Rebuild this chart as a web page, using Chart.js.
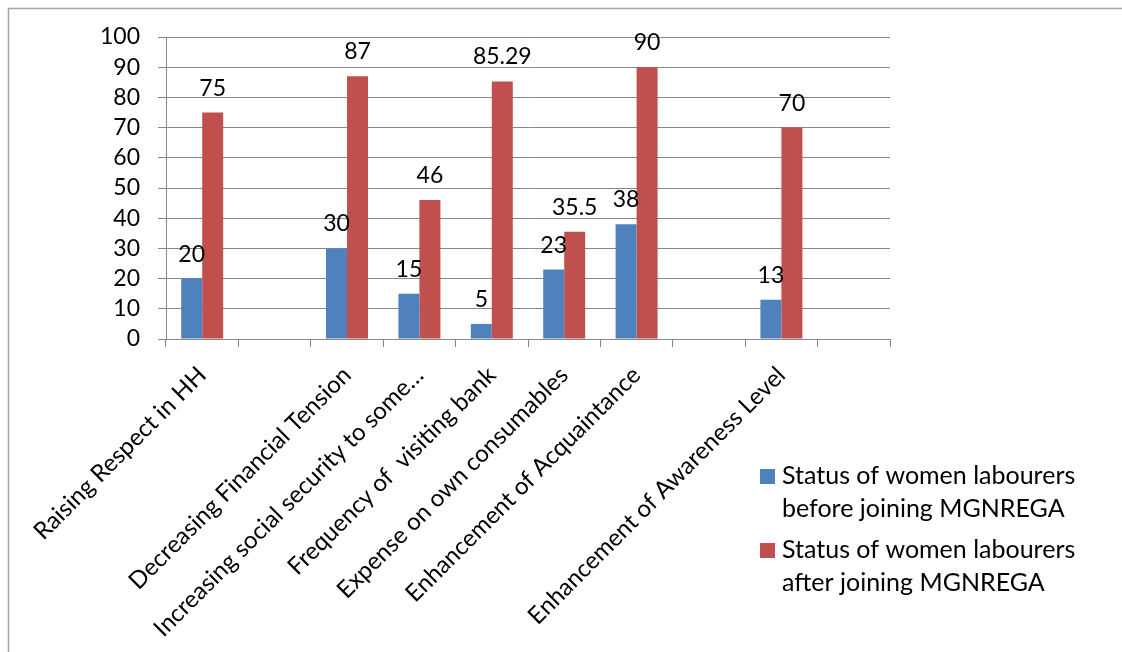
<!DOCTYPE html>
<html><head><meta charset="utf-8">
<script src="https://cdn.jsdelivr.net/npm/chart.js@4.4.0/dist/chart.umd.min.js"></script>
<style>html,body{margin:0;padding:0;background:#fff;} #wrap{position:relative;width:1122px;height:652px;}</style>
</head><body><div id="wrap"><canvas id="c" width="1122" height="652"></canvas></div>
<script>
const categories = [
  "Raising Respect in HH", "", "Decreasing Financial Tension",
  "Increasing social security to some\u2026", "Frequency of  visiting bank",
  "Expense on own consumables", "Enhancement of Acquaintance", "",
  "Enhancement of Awareness Level", ""
];
const seriesNames = [
  "Status of women labourers before joining MGNREGA",
  "Status of women labourers after joining MGNREGA"
];
const beforeValues = [20, null, 30, 15, 5, 23, 38, null, 13, null];
const afterValues  = [75, null, 87, 46, 85.29, 35.5, 90, null, 70, null];
const yMin = 0, yMax = 100, yStep = 10;

const FONT = 'Lato, "Liberation Sans", sans-serif';

const framePlugin = {
  id: 'frame',
  beforeDraw(chart) {
    const ctx = chart.ctx;
    ctx.save();
    ctx.fillStyle = '#fff';
    ctx.fillRect(0, 0, chart.width, chart.height);
    ctx.strokeStyle = '#a6a6a6';
    ctx.lineWidth = 1.5;
    ctx.beginPath();
    ctx.moveTo(8.5, chart.height);
    ctx.lineTo(8.5, 8.5);
    ctx.lineTo(chart.width, 8.5);
    ctx.stroke();
    ctx.restore();
  }
};

const valueLabelPlugin = {
  id: 'valueLabels',
  afterDatasetsDraw(chart) {
    const ctx = chart.ctx;
    ctx.save();
    ctx.font = '23px ' + FONT;
    ctx.fillStyle = '#000';
    ctx.textAlign = 'center';
    ctx.textBaseline = 'alphabetic';
    chart.data.datasets.forEach((ds, di) => {
      const meta = chart.getDatasetMeta(di);
      meta.data.forEach((el, i) => {
        const v = ds.data[i];
        if (v === null || v === undefined) return;
        ctx.fillText(String(v), el.x, el.y - 17);
      });
    });
    ctx.restore();
  }
};

const sideLegendPlugin = {
  id: 'sideLegend',
  afterDraw(chart) {
    const ctx = chart.ctx;
    ctx.save();
    ctx.font = '25px ' + FONT;
    ctx.fillStyle = '#000';
    ctx.textAlign = 'left';
    ctx.textBaseline = 'alphabetic';
    const boxX = 760, textX = 782, maxW = 305, lineH = 33, itemGap = 74;
    let baseY = 484;
    chart.data.datasets.forEach((ds) => {
      const words = ds.label.split(' ');
      const lines = [];
      let cur = '';
      words.forEach(w => {
        const t = cur ? cur + ' ' + w : w;
        if (ctx.measureText(t).width > maxW && cur) { lines.push(cur); cur = w; }
        else cur = t;
      });
      if (cur) lines.push(cur);
      ctx.fillStyle = ds.backgroundColor;
      ctx.fillRect(boxX, baseY - 15, 15, 15);
      ctx.fillStyle = '#000';
      lines.forEach((ln, k) => ctx.fillText(ln, textX, baseY + k * lineH));
      baseY += itemGap;
    });
    ctx.restore();
  }
};

new Chart(document.getElementById('c'), {
  type: 'bar',
  data: {
    labels: categories,
    datasets: [
      { label: seriesNames[0], data: beforeValues, backgroundColor: '#4F81BD' },
      { label: seriesNames[1], data: afterValues, backgroundColor: '#C0504D' }
    ]
  },
  options: {
    responsive: false,
    animation: false,
    devicePixelRatio: 1,
    layout: { padding: { top: 37, right: 232, left: 0, bottom: 0 } },
    datasets: { bar: { categoryPercentage: 0.58, barPercentage: 1.0 } },
    plugins: { legend: { display: false }, tooltip: { enabled: false } },
    scales: {
      x: {
        afterFit(s) { s.height = 313; },
        grid: { offset: true, drawOnChartArea: false, drawTicks: true, tickLength: 8, color: '#878787', lineWidth: 1 },
        border: { color: '#878787', width: 1 },
        ticks: { minRotation: 45, maxRotation: 45, autoSkip: false, padding: 14, color: '#000', font: { family: FONT, size: 24 } }
      },
      y: {
        min: yMin, max: yMax,
        afterFit(s) { s.width = 166; },
        grid: { color: '#878787', lineWidth: 1, tickLength: 8 },
        border: { color: '#878787', width: 1 },
        ticks: { stepSize: yStep, autoSkip: false, padding: 18, color: '#000', font: { family: FONT, size: 23 } }
      }
    }
  },
  plugins: [framePlugin, valueLabelPlugin, sideLegendPlugin]
});
</script></body></html>
